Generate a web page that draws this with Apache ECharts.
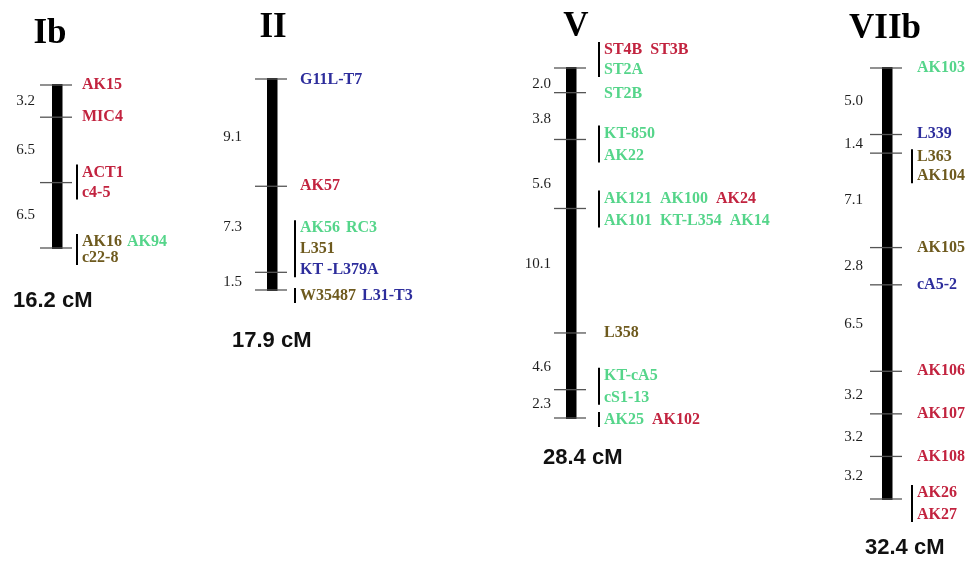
<!DOCTYPE html>
<html>
<head>
<meta charset="utf-8">
<script src="https://cdn.jsdelivr.net/npm/echarts@6/dist/echarts.min.js"></script>
<style>
  html, body { margin: 0; padding: 0; background: #ffffff; }
  #chart { width: 971px; height: 563px; }
</style>
</head>
<body>
<div id="chart"></div>
<script>
// ---- Linkage groups: names, interval distances (cM) and markers per locus ----
const chromosomeNames = ['Ib', 'II', 'V', 'VIIb'];

const intervalsIb   = [3.2, 6.5, 6.5];
const intervalsII   = [9.1, 7.3, 1.5];
const intervalsV    = [2.0, 3.8, 5.6, 10.1, 4.6, 2.3];
const intervalsVIIb = [5.0, 1.4, 7.1, 2.8, 6.5, 3.2, 3.2, 3.2];

// Each locus: list of label rows; each row: list of [marker, marker type]
const markersIb = [
  [[['AK15', 'red']]],
  [[['MIC4', 'red']]],
  [[['ACT1', 'red']], [['c4-5', 'red']]],
  [[['AK16', 'olive'], ['AK94', 'green']], [['c22-8', 'olive']]]
];
const markersII = [
  [[['G11L-T7', 'blue']]],
  [[['AK57', 'red']]],
  [[['AK56', 'green'], ['RC3', 'green']], [['L351', 'olive']], [['KT -L379A', 'blue']]],
  [[['W35487', 'olive'], ['L31-T3', 'blue']]]
];
const markersV = [
  [[['ST4B', 'red'], ['ST3B', 'red']], [['ST2A', 'green']]],
  [[['ST2B', 'green']]],
  [[['KT-850', 'green']], [['AK22', 'green']]],
  [[['AK121', 'green'], ['AK100', 'green'], ['AK24', 'red']],
   [['AK101', 'green'], ['KT-L354', 'green'], ['AK14', 'green']]],
  [[['L358', 'olive']]],
  [[['KT-cA5', 'green']], [['cS1-13', 'green']]],
  [[['AK25', 'green'], ['AK102', 'red']]]
];
const markersVIIb = [
  [[['AK103', 'green']]],
  [[['L339', 'blue']]],
  [[['L363', 'olive']], [['AK104', 'olive']]],
  [[['AK105', 'olive']]],
  [[['cA5-2', 'blue']]],
  [[['AK106', 'red']]],
  [[['AK107', 'red']]],
  [[['AK108', 'red']]],
  [[['AK26', 'red']], [['AK27', 'red']]]
];

// ---- Drawing styles and placement ----
const markerColors = { red: '#c2233f', green: '#55d58a', blue: '#2d2d9c', olive: '#6e5a1e' };
const MARKER_FONT = 'bold 16px "Liberation Serif", "Times New Roman", serif';
const DIST_FONT = '15px "Liberation Serif", "Times New Roman", serif';

const layouts = [
  { barX: 57,  top: 85, height: 163, labelDx: 25, wordGap: 5, distDx: -22,
    distNudge: [0, 0, 0],
    rowDy: [[0], [0], [-10, 10], [-6, 10]],
    titleX: 50, titleY: 34, totalX: 13, totalY: 301 },
  { barX: 272, top: 79, height: 211, labelDx: 28, wordGap: 6, distDx: -30,
    distNudge: [4, -2, 1],
    rowDy: [[1], [0], [-44, -23, -2], [6]],
    titleX: 273, titleY: 28, totalX: 232, totalY: 341 },
  { barX: 571, top: 68, height: 350, labelDx: 33, wordGap: 8, distDx: -20,
    distNudge: [4, 3, 10, -7, 6, 0],
    rowDy: [[-18, 2], [1], [-6, 16], [-10, 12], [0], [-14, 8], [2]],
    titleX: 576, titleY: 27, totalX: 543, totalY: 458 },
  { barX: 887, top: 68, height: 431, labelDx: 30, wordGap: 6, distDx: -24,
    distNudge: [0, 0, 0, 0, -4, 2, 2, -2],
    rowDy: [[0], [-1], [4, 23], [0], [0], [0], [0], [0], [-6, 16]],
    titleX: 885, titleY: 29, totalX: 865, totalY: 548 }
];

const allIntervals = [intervalsIb, intervalsII, intervalsV, intervalsVIIb];
const allMarkers = [markersIb, markersII, markersV, markersVIIb];

// text width helper for laying markers side by side
const measureCtx = document.createElement('canvas').getContext('2d');
function textWidth(str, font) {
  measureCtx.font = font;
  return measureCtx.measureText(str).width;
}

function cumulative(intervals) {
  const pos = [0];
  intervals.forEach(d => pos.push(+(pos[pos.length - 1] + d).toFixed(2)));
  return pos;
}

const grids = [], xAxes = [], yAxes = [], series = [], graphics = [];

chromosomeNames.forEach((name, ci) => {
  const L = layouts[ci];
  const intervals = allIntervals[ci];
  const markers = allMarkers[ci];
  const positions = cumulative(intervals);
  const total = positions[positions.length - 1];

  grids.push({ left: L.barX, top: L.top, width: 20, height: L.height });
  xAxes.push({ type: 'value', gridIndex: ci, min: 0, max: 1, show: false });
  yAxes.push({ type: 'value', gridIndex: ci, min: 0, max: total, inverse: true, show: false });

  // chromosome bar
  series.push({
    type: 'custom', xAxisIndex: ci, yAxisIndex: ci, silent: true, z: 2,
    data: [[0, 0, total]],
    renderItem: (params, api) => {
      const a = api.coord([0, api.value(1)]);
      const b = api.coord([0, api.value(2)]);
      return { type: 'rect', shape: { x: a[0] - 5, y: a[1] - 1, width: 10.5, height: b[1] - a[1] + 2 },
               style: { fill: '#000000' } };
    }
  });

  // loci: tick, marker names, bracket for co-located markers
  series.push({
    type: 'custom', xAxisIndex: ci, yAxisIndex: ci, silent: true, z: 3,
    data: positions.map(p => [0, p]),
    renderItem: (params, api) => {
      const idx = params.dataIndex;
      const p = api.coord([0, api.value(1)]);
      const rows = markers[idx];
      const dys = L.rowDy[idx];
      const children = [{
        type: 'line', shape: { x1: p[0] - 17, y1: p[1], x2: p[0] + 15, y2: p[1] },
        style: { stroke: '#555555', lineWidth: 1.3 }
      }];
      let count = 0;
      rows.forEach((row, r) => {
        let x = p[0] + L.labelDx;
        const y = p[1] + dys[r];
        row.forEach(([label, kind]) => {
          children.push({ type: 'text', x: x, y: y,
            style: { text: label, font: MARKER_FONT, fill: markerColors[kind], align: 'left', verticalAlign: 'middle' } });
          x += textWidth(label, MARKER_FONT) + L.wordGap;
          count++;
        });
      });
      if (count > 1) {
        const bx = p[0] + L.labelDx - 5;
        children.push({ type: 'line',
          shape: { x1: bx, y1: p[1] + dys[0] - 8, x2: bx, y2: p[1] + dys[dys.length - 1] + 7 },
          style: { stroke: '#000000', lineWidth: 2 } });
      }
      return { type: 'group', children };
    }
  });

  // interval distances beside the bar
  series.push({
    type: 'custom', xAxisIndex: ci, yAxisIndex: ci, silent: true, z: 3,
    data: intervals.map((d, i) => [0, (positions[i] + positions[i + 1]) / 2, d]),
    renderItem: (params, api) => {
      const p = api.coord([0, api.value(1)]);
      return { type: 'text', x: p[0] + L.distDx, y: p[1] + L.distNudge[params.dataIndex],
        style: { text: api.value(2).toFixed(1), font: DIST_FONT, fill: '#1e1e1e', align: 'right', verticalAlign: 'middle' } };
    }
  });

  // group name and total length
  graphics.push({ type: 'text', x: L.titleX, y: L.titleY,
    style: { text: name, font: 'bold 35px "Liberation Serif", "Times New Roman", serif', fill: '#000000', align: 'center', verticalAlign: 'middle' } });
  graphics.push({ type: 'text', x: L.totalX, y: L.totalY,
    style: { text: total.toFixed(1) + ' cM', font: 'bold 22px "Liberation Sans", Arial, sans-serif', fill: '#111111', align: 'left', verticalAlign: 'middle' } });
});

const chart = echarts.init(document.getElementById('chart'), null, { renderer: 'canvas' });
chart.setOption({
  animation: false,
  backgroundColor: '#ffffff',
  grid: grids,
  xAxis: xAxes,
  yAxis: yAxes,
  series: series,
  graphic: graphics
});
</script>
</body>
</html>
